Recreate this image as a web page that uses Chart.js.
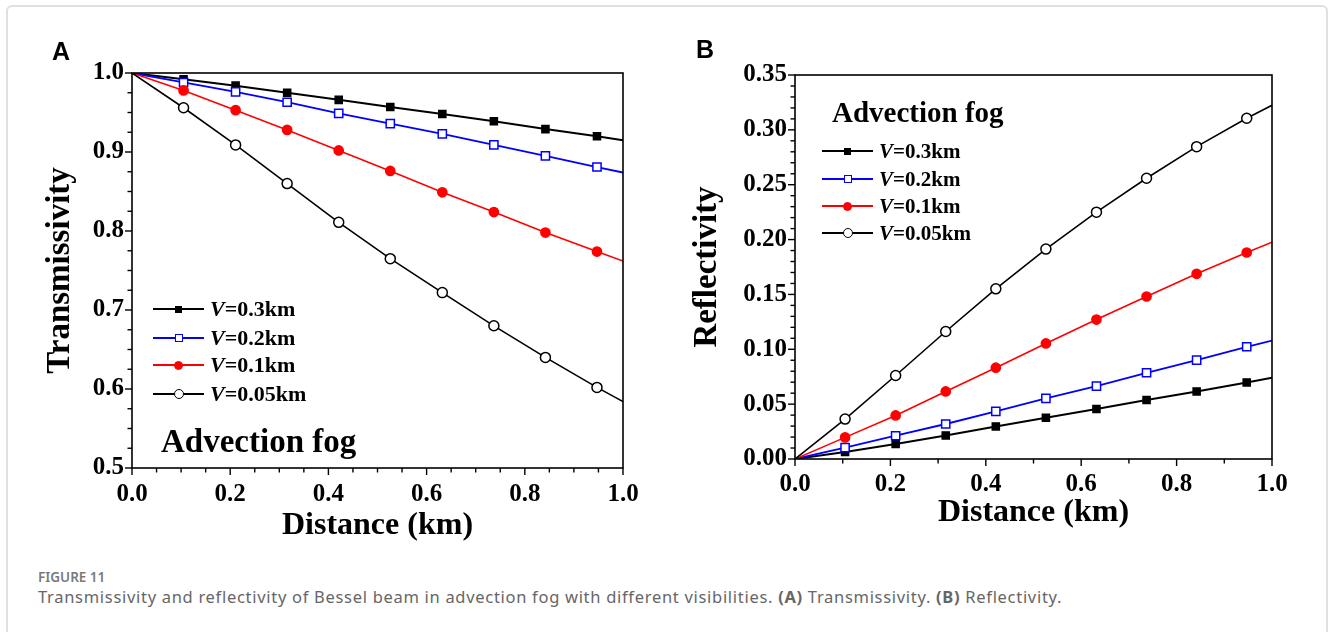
<!DOCTYPE html>
<html>
<head>
<meta charset="utf-8">
<script src="https://cdn.jsdelivr.net/npm/chart.js@4.4.0/dist/chart.umd.min.js"></script>
<style>
  body { margin: 0; background: #fff; width: 1330px; height: 632px; overflow: hidden; position: relative; }
  .frame { position: absolute; left: 6px; top: 5px; width: 1322px; height: 720px; border: 2px solid #e0e0e0; border-radius: 6px; box-sizing: border-box; }
  canvas { position: absolute; top: 0; }
  #chartA { left: 0; }
  #chartB { left: 665px; }
  .panel { position: absolute; font-family: 'Liberation Sans', Arial, sans-serif; font-weight: bold; font-size: 25px; line-height: 25px; color: #000; }
  .serif { position: absolute; font-family: 'Liberation Serif', 'Times New Roman', serif; font-weight: bold; color: #000; white-space: nowrap; }
  .legend .row { position: absolute; height: 22px; }
  .legend .line { position: absolute; top: 10px; height: 2px; }
  .legend .mark { position: absolute; box-sizing: border-box; }
  .legend .txt { position: absolute; top: 0; white-space: nowrap; font-family: 'Liberation Serif', serif; font-weight: bold; color: #000; }
  .cap1 { position: absolute; left: 38px; top: 571px; font-family: 'Noto Sans', sans-serif; font-size: 13.5px; line-height: 13.5px; color: #7a7a7a; font-weight: 600; }
  .cap2 { position: absolute; left: 38px; top: 589px; font-family: 'Noto Sans', sans-serif; font-size: 16.5px; line-height: 16.5px; letter-spacing: 0.7px; color: #666; white-space: nowrap; }
  .cap2 b { font-weight: 700; color: #666; }
</style>
</head>
<body>
<div class="frame"></div>
<canvas id="chartA" width="665" height="560"></canvas>
<canvas id="chartB" width="665" height="560"></canvas>

<div class="panel" style="left:52px;top:39px;">A</div>
<div class="panel" style="left:696px;top:37px;">B</div>

<div class="serif" style="left:161px;top:425px;font-size:33px;line-height:33px;">Advection fog</div>
<div class="serif" style="left:832px;top:98px;font-size:29px;line-height:29px;">Advection fog</div>

<div class="legend" id="legendA"></div>
<div class="legend" id="legendB"></div>

<div class="cap1">FIGURE 11</div>
<div class="cap2">Transmissivity and reflectivity of Bessel beam in advection fog with different visibilities. <b>(A)</b> Transmissivity. <b>(B)</b> Reflectivity.</div>

<script>
// distance along the path (km); markers sit on the inner points
const distance = [0, 0.105, 0.211, 0.316, 0.421, 0.526, 0.632, 0.737, 0.842, 0.947, 1.0];
const visibility = ['0.3km', '0.2km', '0.1km', '0.05km'];

// panel A - transmissivity
const transV03  = [1.0, 0.992, 0.984, 0.975, 0.966, 0.957, 0.948, 0.939, 0.929, 0.920, 0.915];
const transV02  = [1.0, 0.988, 0.976, 0.963, 0.949, 0.936, 0.923, 0.909, 0.895, 0.881, 0.874];
const transV01  = [1.0, 0.978, 0.953, 0.928, 0.902, 0.876, 0.849, 0.824, 0.798, 0.774, 0.762];
const transV005 = [1.0, 0.956, 0.909, 0.860, 0.811, 0.765, 0.722, 0.680, 0.640, 0.602, 0.584];

// panel B - reflectivity
const reflV03  = [0, 0.0064, 0.0137, 0.0215, 0.0297, 0.0376, 0.0455, 0.0537, 0.0616, 0.0698, 0.0740];
const reflV02  = [0, 0.0103, 0.0212, 0.0319, 0.0434, 0.0552, 0.0665, 0.0786, 0.0902, 0.1023, 0.1080];
const reflV01  = [0, 0.0197, 0.0397, 0.0616, 0.0832, 0.1053, 0.1271, 0.1481, 0.1688, 0.1882, 0.1976];
const reflV005 = [0, 0.0364, 0.0761, 0.1162, 0.1551, 0.1913, 0.2250, 0.2559, 0.2847, 0.3106, 0.3224];

// tick labels
const xTickLabels = ['0.0', '0.2', '0.4', '0.6', '0.8', '1.0'];
const transTickLabels = ['0.5', '0.6', '0.7', '0.8', '0.9', '1.0'];
const reflTickLabels = ['0.00', '0.05', '0.10', '0.15', '0.20', '0.25', '0.30', '0.35'];

// marker look for each visibility
const styles = [
  { color: '#000000', pointStyle: 'rect',   fill: '#000000', radius: 5,   width: 2 },
  { color: '#0000ff', pointStyle: 'rect',   fill: '#ffffff', radius: 5.8, width: 1.8 },
  { color: '#ff0000', pointStyle: 'circle', fill: '#ff0000', radius: 4.6, width: 1.6 },
  { color: '#000000', pointStyle: 'circle', fill: '#ffffff', radius: 5,   width: 1.6 }
];

const serifBold = (size) => ({ family: "'Liberation Serif', 'Times New Roman', serif", size: size, weight: 'bold' });

// frame box + outward major/minor ticks
const frameTicks = {
  id: 'frameTicks',
  afterDatasetsDraw(chart, args, opts) {
    const { ctx, chartArea: a } = chart;
    ctx.save();
    ctx.strokeStyle = '#000';
    ctx.lineWidth = 1.6;
    ctx.strokeRect(a.left, a.top, a.right - a.left, a.bottom - a.top);
    ctx.lineWidth = 1.4;
    ['x', 'y'].forEach(id => {
      const s = chart.scales[id];
      const o = opts[id];
      const n = Math.round((s.max - s.min) / o.minor);
      for (let i = 0; i <= n; i++) {
        const v = s.min + i * o.minor;
        const r = v / o.major;
        const len = Math.abs(r - Math.round(r)) < 1e-6 ? 7 : 4.5;
        const p = s.getPixelForValue(v);
        ctx.beginPath();
        if (id === 'x') { ctx.moveTo(p, a.bottom); ctx.lineTo(p, a.bottom + len); }
        else { ctx.moveTo(a.left, p); ctx.lineTo(a.left - len, p); }
        ctx.stroke();
      }
    });
    ctx.restore();
  }
};

function makePanel(canvasId, seriesList, cfg) {
  const datasets = seriesList.map((vals, k) => {
    const st = styles[k];
    const r = distance.map((d, i) => (i === 0 || i === distance.length - 1) ? 0 : st.radius);
    return {
      label: 'V=' + visibility[k],
      data: distance.map((d, i) => ({ x: d, y: vals[i] })),
      borderColor: st.color,
      borderWidth: st.width,
      backgroundColor: st.fill,
      pointStyle: st.pointStyle,
      pointRadius: r,
      pointBorderColor: st.color,
      pointBackgroundColor: st.fill,
      pointBorderWidth: 1.5,
      tension: 0,
      order: 3 - k
    };
  });

  return new Chart(document.getElementById(canvasId), {
    type: 'line',
    data: { datasets: datasets },
    plugins: [frameTicks],
    options: {
      responsive: false,
      animation: false,
      events: [],
      layout: { padding: cfg.padding },
      plugins: {
        legend: { display: false },
        tooltip: { enabled: false },
        frameTicks: { x: { major: 0.2, minor: cfg.xMinor }, y: { major: cfg.yMajor, minor: cfg.yMinor } }
      },
      scales: {
        x: {
          type: 'linear',
          min: 0, max: 1,
          grid: { display: false, drawTicks: false },
          border: { display: false },
          afterBuildTicks: s => { s.ticks = xTickLabels.map(t => ({ value: parseFloat(t) })); },
          ticks: {
            font: serifBold(25), color: '#000', padding: cfg.xTickPad, maxRotation: 0, autoSkip: false,
            callback: (v) => v.toFixed(1)
          },
          title: { display: true, text: 'Distance (km)', font: serifBold(32), color: '#000', padding: { top: 0, bottom: cfg.xTitlePad } },
          afterFit: s => { s.height = cfg.xHeight; s.paddingLeft = 0; s.paddingRight = 0; }
        },
        y: {
          type: 'linear',
          min: parseFloat(cfg.yLabels[0]), max: parseFloat(cfg.yLabels[cfg.yLabels.length - 1]),
          grid: { display: false, drawTicks: false },
          border: { display: false },
          afterBuildTicks: s => { s.ticks = cfg.yLabels.map(t => ({ value: parseFloat(t) })); },
          ticks: {
            font: serifBold(25), color: '#000', padding: 8, autoSkip: false,
            callback: (v) => v.toFixed(cfg.yDigits)
          },
          title: { display: true, text: cfg.yTitle, font: serifBold(33), color: '#000', padding: { top: cfg.yTitlePad, bottom: 0 } },
          afterFit: s => { s.width = cfg.yWidth; s.paddingTop = 0; s.paddingBottom = 0; }
        }
      }
    }
  });
}

makePanel('chartA', [transV03, transV02, transV01, transV005], {
  padding: { top: 73, right: 42, bottom: 12, left: 0 },
  yWidth: 132, xHeight: 80,
  yLabels: transTickLabels, yDigits: 1, yMajor: 0.1, yMinor: 0.025, xMinor: 0.05,
  yTitle: 'Transmissivity', yTitlePad: 41, xTickPad: 12, xTitlePad: 3
});

makePanel('chartB', [reflV03, reflV02, reflV01, reflV005], {
  padding: { top: 75, right: 58, bottom: 21, left: 0 },
  yWidth: 130, xHeight: 80,
  yLabels: reflTickLabels, yDigits: 2, yMajor: 0.05, yMinor: 0.01, xMinor: 0.1,
  yTitle: 'Reflectivity', yTitlePad: 23, xTickPad: 11, xTitlePad: 7
});

// legends in the plot corner
function buildLegend(elId, left, rowTops, fontSize) {
  const box = document.getElementById(elId);
  visibility.forEach((v, k) => {
    const st = styles[k];
    const row = document.createElement('div');
    row.className = 'row';
    row.style.left = left + 'px';
    row.style.top = rowTops[k] + 'px';
    const line = document.createElement('div');
    line.className = 'line';
    line.style.left = '0px'; line.style.width = '51px'; line.style.background = st.color;
    row.appendChild(line);
    const m = document.createElement('div');
    m.className = 'mark';
    const size = st.pointStyle === 'rect' ? Math.round(st.radius * 1.414) : Math.round(st.radius * 2);
    m.style.width = size + 'px'; m.style.height = size + 'px';
    m.style.left = (25.5 - size / 2) + 'px'; m.style.top = (11 - size / 2) + 'px';
    m.style.background = st.fill;
    m.style.border = '1.5px solid ' + st.color;
    if (st.pointStyle === 'circle') m.style.borderRadius = '50%';
    row.appendChild(m);
    const t = document.createElement('div');
    t.className = 'txt';
    t.style.left = '57px';
    t.style.fontSize = fontSize + 'px';
    t.style.lineHeight = '22px';
    t.innerHTML = '<i>V</i>=' + v;
    row.appendChild(t);
    box.appendChild(row);
  });
}
buildLegend('legendA', 153, [298, 327, 354, 383], 22);
buildLegend('legendB', 822, [140, 168, 195, 222], 21);
</script>
</body>
</html>
